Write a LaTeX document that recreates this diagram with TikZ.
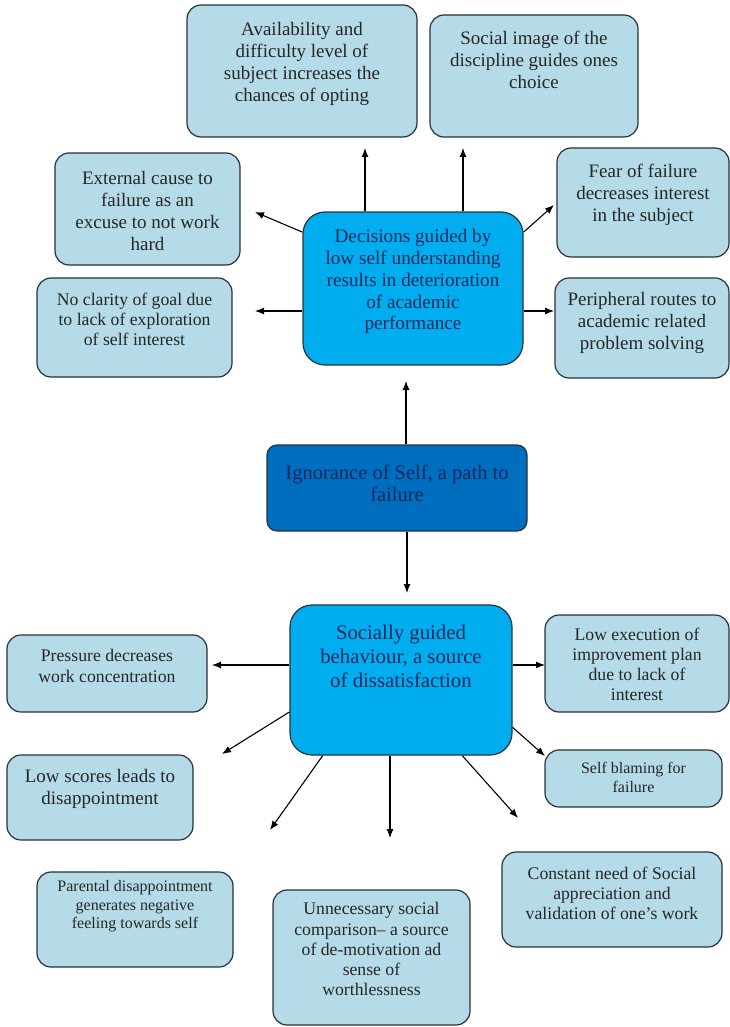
\documentclass[tikz,border=0pt]{standalone}
\usepackage{fontspec}
\setmainfont{Liberation Serif}
\usetikzlibrary{arrows.meta,fit}
\usepackage{xcolor}
\definecolor{paleblue}{RGB}{180,219,231}
\definecolor{midblue}{RGB}{0,174,239}
\definecolor{deepblue}{RGB}{0,110,190}
\definecolor{navytext}{RGB}{22,40,92}
\definecolor{edgegray}{RGB}{40,50,60}
\newcommand{\card}[7] {
    \node[#2,fit={(#3) (#4)}] (#1) {};
    \node[anchor=north,align=center,inner sep=0pt,#5] (#1-txt) at ([yshift=-#6pt]#1.north) {#7};
}

\begin{document}
\begin{tikzpicture}[x=1pt,y=-1pt,
        palebox/.style={draw=edgegray,fill=paleblue,rounded corners=14pt,inner sep=0pt,line width=1.2pt},
        midbox/.style={draw=edgegray,fill=midblue,rounded corners=22pt,inner sep=0pt,line width=1.2pt},
        corebox/.style={draw=edgegray,fill=deepblue,rounded corners=10pt,inner sep=0pt,line width=1.2pt},
        bodytxt/.style={font=\fontsize{19}{21.8}\selectfont,text=black!85},
        medtxt/.style={font=\fontsize{17.7}{20.2}\selectfont,text=black!85},
        smalltxt/.style={font=\fontsize{16}{18.4}\selectfont,text=black!85},
        decidetxt/.style={font=\fontsize{19.2}{21.7}\selectfont,text=navytext},
        headtxt/.style={font=\fontsize{20.8}{24}\selectfont,text=navytext},
        coretxt/.style={font=\fontsize{20.5}{22.5}\selectfont,text=navytext},
        arr/.style={-{Latex[length=9pt,width=7pt]},line width=1.1pt}
    ]
    \useasboundingbox (0,0) rectangle (730,1027);

    \card{avail}{palebox}{187,5}{417,137}{bodytxt}{18}{Availability and\\difficulty level of\\subject increases the\\chances of opting}
    \card{image}{palebox}{430,15}{638,137}{bodytxt}{17}{Social image of the\\discipline guides ones\\choice}
    \card{extern}{palebox}{55,153}{240,265}{bodytxt}{19}{External cause to\\failure as an\\excuse to not work\\hard}
    \card{clarity}{palebox}{37,278}{232,377}{medtxt}{15}{No clarity of goal due\\to lack of exploration\\of self interest}
    \card{decide}{midbox}{303,212}{523,365}{decidetxt}{18}{Decisions guided by\\low self understanding\\results in deterioration\\of academic\\performance}
    \card{fear}{palebox}{557,148}{729,257}{bodytxt}{17}{Fear of failure\\decreases interest\\in the subject}
    \card{periph}{palebox}{555,278}{729,378}{bodytxt}{15}{Peripheral routes to\\academic related\\problem solving}

    \card{core}{corebox}{267,445}{527,531}{coretxt}{20}{Ignorance of Self, a path to\\failure}

    \card{social}{midbox}{290,605}{512,755}{headtxt}{20}{Socially guided\\behaviour, a source\\of dissatisfaction}
    \card{pressure}{palebox}{7,635}{207,712}{medtxt}{15}{Pressure decreases\\work concentration}
    \card{scores}{palebox}{7,755}{193,840}{bodytxt}{15}{Low scores leads to\\disappointment}
    \card{plan}{palebox}{545,615}{729,712}{medtxt}{13}{Low execution of\\improvement plan\\due to lack of\\interest}
    \card{blame}{palebox}{545,750}{722,807}{smalltxt}{13}{Self blaming for\\failure}
    \card{approval}{palebox}{502,852}{722,947}{medtxt}{15}{Constant need of Social\\appreciation and\\validation of one’s work}
    \card{parent}{palebox}{37,872}{233,967}{smalltxt}{9}{Parental disappointment\\generates negative\\feeling towards self}
    \card{compare}{palebox}{273,890}{470,1025}{medtxt}{13}{Unnecessary social\\comparison– a source\\of de-motivation ad\\sense of\\worthlessness}

    \coordinate (tipA) at (365,148);
    \coordinate (tipB) at (463,148);
    \coordinate (tipC) at (255,212);
    \coordinate (tipD) at (554,205);
    \coordinate (tipE) at (255,311);
    \coordinate (tipF) at (554,311);
    \coordinate (tipG) at (406,381);
    \coordinate (tipH) at (407,593);
    \coordinate (tipI) at (212,665);
    \coordinate (tipJ) at (222,754);
    \coordinate (tipK) at (270,830);
    \coordinate (tipL) at (390,838);
    \coordinate (tipM) at (518,818);
    \coordinate (tipN) at (545,756);
    \coordinate (tipO) at (545,665);

    \draw[arr] (decide.north -| tipA) -- (tipA);
    \draw[arr] (decide.north -| tipB) -- (tipB);
    \draw[arr] (decide.153) -- (tipC);
    \draw[arr] (decide.27) -- (tipD);
    \draw[arr] (decide.west |- tipE) -- (tipE);
    \draw[arr] (decide.east |- tipF) -- (tipF);
    \draw[arr] (core.north -| tipG) -- (tipG);
    \draw[arr] (core.south -| tipH) -- (tipH);
    \draw[arr] (social.west |- tipI) -- (tipI);
    \draw[arr] (social.196) -- (tipJ);
    \draw[arr] (social.224) -- (tipK);
    \draw[arr] (social.south -| tipL) -- (tipL);
    \draw[arr] (social.309) -- (tipM);
    \draw[arr] (social.337) -- (tipN);
    \draw[arr] (social.east |- tipO) -- (tipO);
\end{tikzpicture}
\end{document}
